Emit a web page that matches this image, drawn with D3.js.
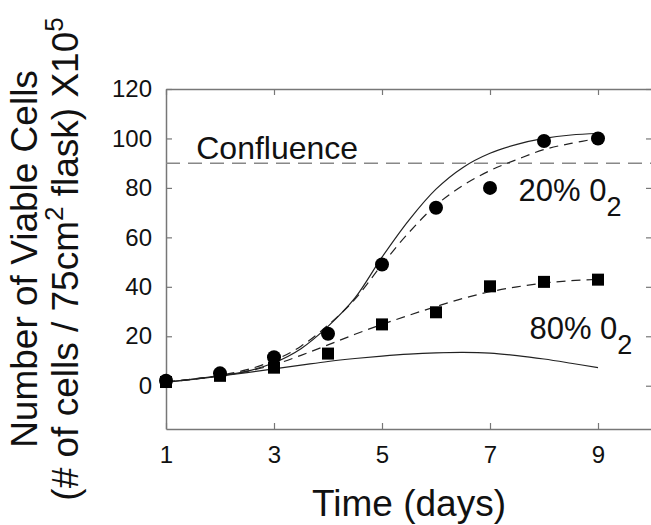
<!DOCTYPE html>
<html>
<head>
<meta charset="utf-8">
<script src="https://cdn.jsdelivr.net/npm/d3@7"></script>
<style>
  html, body { margin: 0; padding: 0; background: #fff; }
  svg { display: block; font-family: "Liberation Sans", Arial, sans-serif; }
</style>
</head>
<body>
<div id="chart"></div>
<script>
// measured points
const days = [1, 2, 3, 4, 5, 6, 7, 8, 9]
const cells20 = [2, 5, 11.5, 21, 49, 72, 80, 99, 100]
const cells80 = [1.5, 4, 7.3, 13, 24.8, 29.7, 40.2, 42, 42.9]

const fitDays = [1, 1.5, 2, 2.5, 3, 3.5, 4, 4.5, 5, 5.5, 6, 6.5, 7, 7.5, 8, 8.5, 9]
const model20 = [1.5, 2.6, 4, 5.9, 9.3, 15, 24, 35.5, 52, 67, 79.5, 88.3, 94, 97.6, 100, 101.4, 102]
const fit20 = [1.5, 2.7, 4.2, 6.5, 10.2, 16, 24.5, 35, 49, 62, 73, 81, 87, 91.5, 95.5, 98, 100]
const fit80 = [1.5, 2.6, 4, 5.8, 8.5, 12.3, 16.5, 20.8, 24.8, 28.5, 32, 35.3, 38, 40, 41.5, 42.5, 43]
const model80 = [1.5, 2.7, 4, 5.3, 6.8, 8.3, 9.8, 11, 12, 12.8, 13.3, 13.5, 13.2, 12.2, 10.8, 9.1, 7.3]

const confluence = 90
const xTicks = [1, 3, 5, 7, 9]
const yTicks = [0, 20, 40, 60, 80, 100, 120]

const width = 651, height = 525
const margin = { top: 89, right: -1, bottom: 96, left: 166 }
const w = width - margin.left - margin.right
const h = height - margin.top - margin.bottom

const svg = d3.select('#chart').append('svg')
    .attr('width', width)
    .attr('height', height)

const g = svg.append('g')
    .attr('transform', 'translate(' + margin.left + ',' + margin.top + ')')

const x = d3.scaleLinear().domain([1, 10]).range([0, w])
const y = d3.scaleLinear().domain([-17.5, 120]).range([h, 0])

const axisColor = '#777'

function styleAxis(sel, labels) {
  sel.select('.domain').attr('stroke', axisColor).attr('stroke-width', 1.5)
  sel.selectAll('.tick line').attr('stroke', axisColor).attr('stroke-width', 1.2)
  sel.selectAll('.tick text')
      .attr('fill', labels ? '#111' : 'none')
      .style('font-size', '24px')
      .style('font-family', '"Liberation Sans", Arial, sans-serif')
}

g.append('g')
    .attr('transform', 'translate(0,' + h + ')')
    .call(d3.axisBottom(x).tickValues(xTicks).tickSizeInner(-6).tickSizeOuter(0).tickPadding(17))
    .call(s => styleAxis(s, true))

g.append('g')
    .call(d3.axisTop(x).tickValues(xTicks).tickSizeInner(-6).tickSizeOuter(0).tickFormat(''))
    .call(s => styleAxis(s, false))

g.append('g')
    .call(d3.axisLeft(y).tickValues(yTicks).tickSizeInner(-6).tickSizeOuter(0).tickPadding(14))
    .call(s => styleAxis(s, true))

g.append('g')
    .attr('transform', 'translate(' + w + ',0)')
    .call(d3.axisRight(y).tickValues(yTicks).tickSizeInner(-6).tickSizeOuter(0).tickFormat(''))
    .call(s => styleAxis(s, false))

// confluence line
g.append('line')
    .attr('x1', 0).attr('x2', w)
    .attr('y1', y(confluence)).attr('y2', y(confluence))
    .attr('stroke', '#888')
    .attr('stroke-width', 1.4)
    .attr('stroke-dasharray', '14,8')

const line = d3.line()
    .x((d, i) => x(fitDays[i]))
    .y(d => y(d))
    .curve(d3.curveCatmullRom.alpha(0.5))

const curves = [
  { values: model20, dash: null },
  { values: fit20, dash: '9,6' },
  { values: fit80, dash: '9,6' },
  { values: model80, dash: null }
]

curves.forEach(c => {
  g.append('path')
      .datum(c.values)
      .attr('fill', 'none')
      .attr('stroke', '#222')
      .attr('stroke-width', 1.2)
      .attr('stroke-dasharray', c.dash)
      .attr('d', line)
})

g.selectAll('.sq')
    .data(cells80)
    .enter().append('rect')
    .attr('x', (d, i) => x(days[i]) - 6)
    .attr('y', d => y(d) - 6)
    .attr('width', 12)
    .attr('height', 12)
    .attr('fill', '#000')

g.selectAll('.dot')
    .data(cells20)
    .enter().append('circle')
    .attr('cx', (d, i) => x(days[i]))
    .attr('cy', d => y(d))
    .attr('r', 7)
    .attr('fill', '#000')

// annotations
g.append('text')
    .attr('x', x(1.56))
    .attr('y', y(91.8))
    .attr('fill', '#111')
    .style('font-size', '32px')
    .text('Confluence')

function o2Label(tx, ty, pct) {
  const t = g.append('text')
      .attr('x', tx)
      .attr('y', ty)
      .attr('fill', '#111')
      .style('font-size', '31px')
  t.append('tspan').text(pct + '% 0')
  t.append('tspan').attr('dy', 15).style('font-size', '27px').text('2')
}
o2Label(x(7.53), y(74.6), '20')
o2Label(x(7.73), y(19), '80')

// axis titles
svg.append('text')
    .attr('x', margin.left + x(5.5))
    .attr('y', 516)
    .attr('text-anchor', 'middle')
    .attr('fill', '#111')
    .style('font-size', '37px')
    .text('Time (days)')

const yt = svg.append('g')
    .attr('transform', 'translate(37,' + (margin.top + h / 2) + ') rotate(-90)')

yt.append('text')
    .attr('text-anchor', 'middle')
    .attr('fill', '#111')
    .style('font-size', '37px')
    .text('Number of Viable Cells')

const t2 = yt.append('text')
    .attr('y', 41)
    .attr('text-anchor', 'middle')
    .attr('fill', '#111')
    .style('font-size', '37px')
t2.append('tspan').text('(# of cells / 75cm')
t2.append('tspan').attr('dy', -15).style('font-size', '26px').text('2')
t2.append('tspan').attr('dy', 15).text(' flask) X10')
t2.append('tspan').attr('dy', -15).style('font-size', '26px').text('5')
</script>
</body>
</html>
